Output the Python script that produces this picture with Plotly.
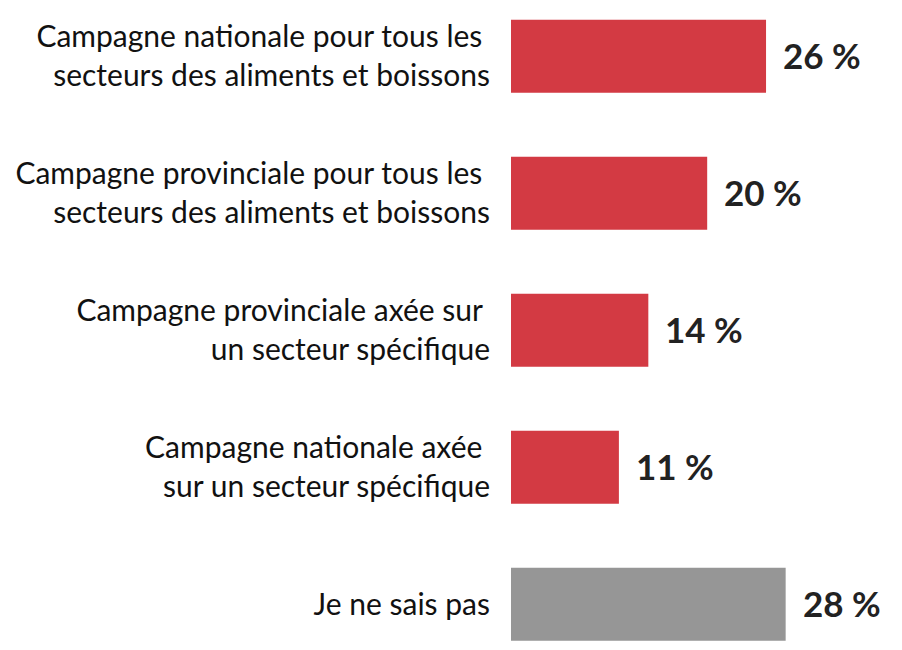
import plotly.graph_objects as go

categories = [
    "Campagne nationale pour tous les\u00a0<br>secteurs des aliments et boissons",
    "Campagne provinciale pour tous les\u00a0<br>secteurs des aliments et boissons",
    "Campagne provinciale axée sur\u00a0<br>un secteur spécifique",
    "Campagne nationale axée\u00a0<br>sur un secteur spécifique",
    "Je ne sais pas",
]
values = [26, 20, 14, 11, 28]
colors = ["#D33A43", "#D33A43", "#D33A43", "#D33A43", "#969696"]

fig = go.Figure()
fig.add_trace(go.Bar(
    x=values, y=categories, orientation="h",
    marker=dict(color=colors, line=dict(width=0)),
    hoverinfo="skip",
))

for v, c in zip(values, categories):
    fig.add_annotation(
        x=v, y=c, text=f"<b>{v}\u00a0%</b>", showarrow=False,
        xanchor="left", yanchor="middle", xshift=15, yshift=1,
        font=dict(family="Lato", size=35, color="#222222"),
    )

fig.update_layout(
    width=894, height=642,
    margin=dict(l=503, r=0, t=0, b=0),
    paper_bgcolor="white", plot_bgcolor="white",
    bargap=0.467,
    showlegend=False,
    font=dict(family="Lato", size=30, color="#111111"),
    xaxis=dict(range=[0, 39.86], visible=False),
    yaxis=dict(
        type="category", categoryorder="array", categoryarray=categories,
        range=[4.334, -0.3518], showgrid=False, zeroline=False, showline=False,
        ticks="", ticklabelstandoff=20, automargin=False,
        tickfont=dict(family="Lato", size=30, color="#111111"),
    ),
)

fig.write_html("out.html")
